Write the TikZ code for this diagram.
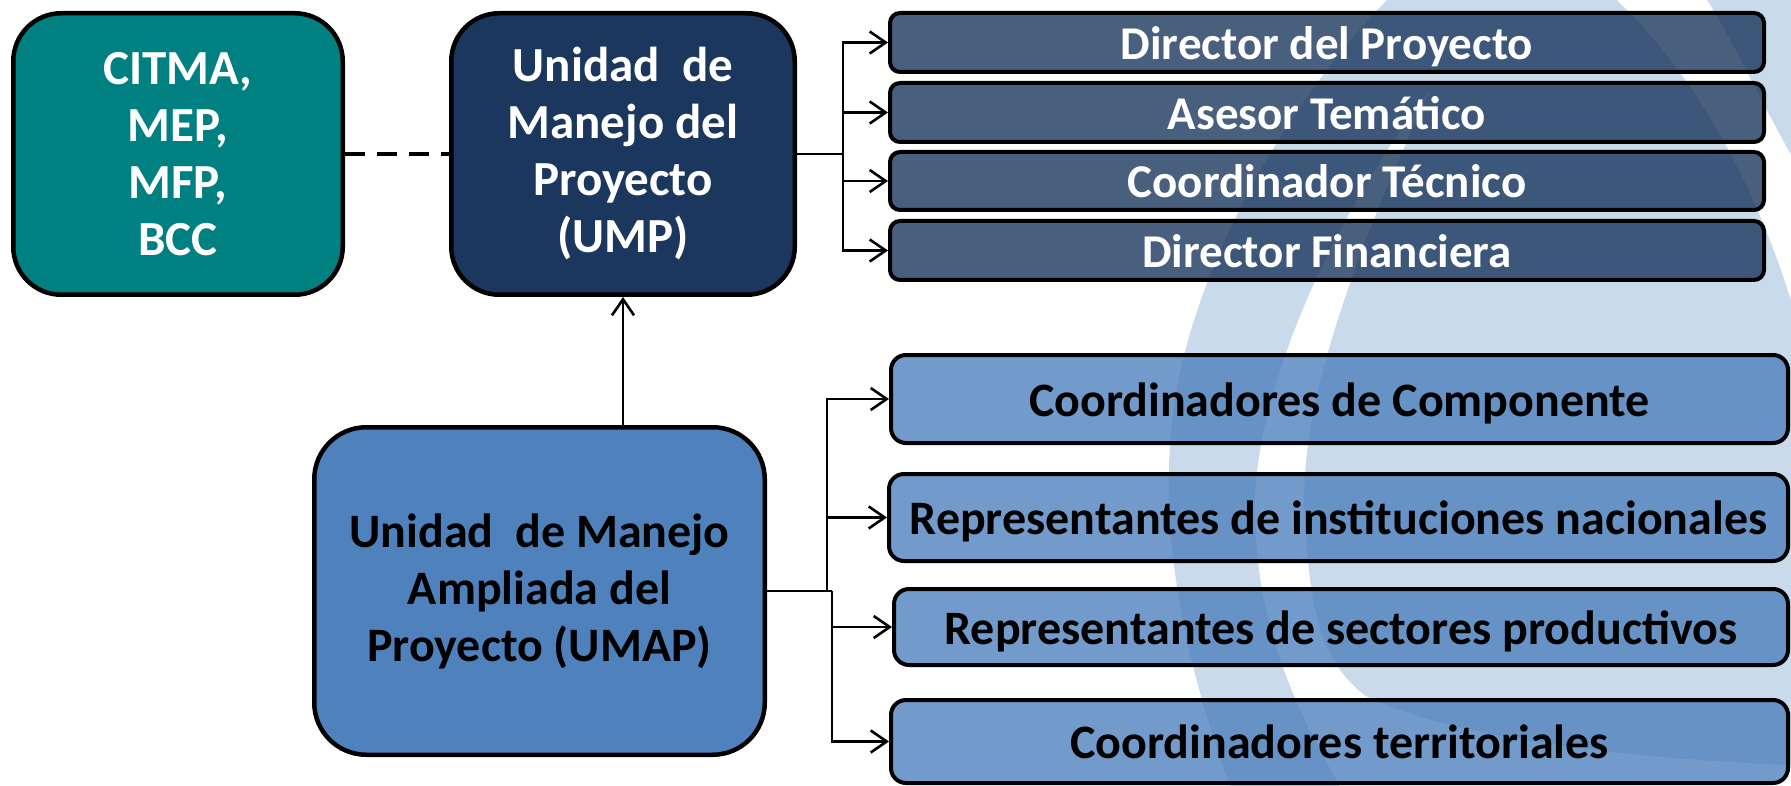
\documentclass[tikz,border=0pt]{standalone}
\usepackage{fontspec}
\setmainfont{Carlito}
\usetikzlibrary{arrows.meta}
\definecolor{tealc}{RGB}{0,128,128}
\definecolor{navyc}{RGB}{27,55,94}
\definecolor{bluec}{RGB}{79,129,189}
\definecolor{bgc}{RGB}{201,218,234}
\begin{document}
\begin{tikzpicture}[x=1pt,y=-1pt,
  bigbox/.style={draw=black, line width=4.5pt, rounded corners=48pt, align=center,
    font=\fontsize{49}{57}\selectfont\bfseries, inner sep=0pt},
  topbox/.style={draw=black, line width=4pt, rounded corners=10pt, fill=navyc,
    fill opacity=0.8, text opacity=1, text=white, minimum width=874pt,
    font=\fontsize{47}{50}\selectfont\bfseries, inner sep=0pt,
    text height=34pt, text depth=0pt},
  lowbox/.style={draw=black, line width=4pt, rounded corners=15pt, fill=bluec,
    fill opacity=0.8, text opacity=1, text=black,
    font=\fontsize{48}{50}\selectfont\bfseries, inner sep=0pt,
    text height=34pt, text depth=0pt},
  conn/.style={line width=2.6pt},
  arr/.style={conn, -{Straight Barb[length=16pt,width=22pt]}}
]
\useasboundingbox (0,0) rectangle (1791,786);
% background decoration
\fill[bgc] (1387,0) .. controls (1280,110) and (1195,270) .. (1175,400)
  .. controls (1160,500) and (1170,620) .. (1230,786) -- (1791,786) -- (1791,0) -- cycle;
\fill[white] (1430,90) .. controls (1370,220) and (1295,400) .. (1305,520)
  .. controls (1310,610) and (1320,660) .. (1364,695)
  .. controls (1450,740) and (1650,760) .. (1791,765) -- (1791,786) -- (1340,786)
  .. controls (1290,700) and (1258,620) .. (1255,520)
  .. controls (1250,400) and (1330,220) .. (1430,90) -- cycle;
\fill[white] (1617,0) .. controls (1690,70) and (1750,170) .. (1791,300)
  -- (1791,155) .. controls (1760,100) and (1735,45) .. (1707,0) -- cycle;
% main boxes
\node[bigbox, fill=tealc, text=white, minimum width=329.5pt, minimum height=281.5pt]
  (citma) at (178,154) {CITMA,\\MEP,\\MFP,\\BCC};
\node[bigbox, fill=navyc, text=white, minimum width=343.5pt, minimum height=281.5pt]
  (ump) at (623,154) {Unidad\ \ de\\Manejo del\\Proyecto\\(UMP)};
\node[bigbox, fill=bluec, text=black, rounded corners=52pt, font=\fontsize{48}{57}\selectfont\bfseries,
  minimum width=450.5pt, minimum height=327.5pt]
  (umap) at (539.5,591) {Unidad\ \ de Manejo\\Ampliada del\\Proyecto (UMAP)};
% top boxes
\node[topbox, minimum height=59pt] (t1) at (1327,42.5) {Director del Proyecto};
\node[topbox, minimum height=59pt] (t2) at (1327,112.5) {Asesor Temático};
\node[topbox, minimum height=58pt] (t3) at (1327,181) {Coordinador Técnico};
\node[topbox, minimum height=59pt] (t4) at (1327,250.5) {Director Financiera};
% lower boxes
\node[lowbox, minimum width=897pt, minimum height=88pt] (l1) at (1339.5,399) {Coordinadores de Componente};
\node[lowbox, minimum width=899pt, minimum height=87pt] (l2) at (1338.5,517.5) {Representantes de instituciones nacionales};
\node[lowbox, minimum width=894pt, minimum height=76pt] (l3) at (1341,627) {Representantes de sectores productivos};
\node[lowbox, minimum width=897pt, minimum height=83pt] (l4) at (1339.5,741.5) {Coordinadores territoriales};
% connectors
\draw[line width=4pt, dash pattern=on 20pt off 12pt] (citma.east) -- (ump.west);
\coordinate (jt) at (843,154);
\draw[conn] (ump.east) -- (jt);
\foreach \n in {t1,t2,t3,t4} \draw[arr] (jt) |- (\n.west);
\draw[arr] (ump.south |- umap.north) -- (ump.south);
\coordinate (ju) at (827,591);
\coordinate (jd) at (832,591);
\draw[conn] (umap.east) -- (jd);
\draw[arr] (ju) |- (l1.west);
\draw[arr] (ju) |- (l2.west);
\draw[arr] (jd) |- (l3.west);
\draw[arr] (jd) |- (l4.west);
\end{tikzpicture}
\end{document}
